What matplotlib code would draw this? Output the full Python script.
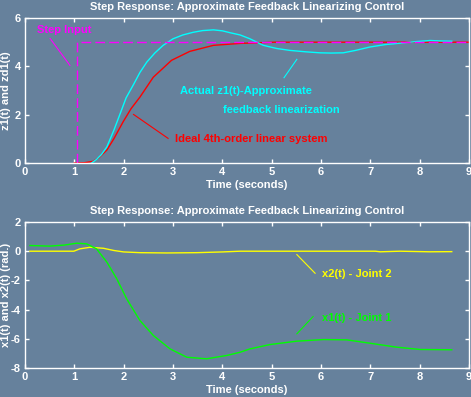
import matplotlib
matplotlib.use("Agg")
import matplotlib.pyplot as plt

plt.rcParams["axes.unicode_minus"] = False
plt.rcParams["font.family"] = ["Liberation Sans", "DejaVu Sans"]

BG = "#66819c"
FG = "white"

# ---- Top panel data ----
t_ideal = [1.0, 1.2, 1.38, 1.5, 1.66, 1.8, 1.99, 2.15, 2.33, 2.6, 2.97, 3.34, 3.82, 4.36, 4.8, 5.05, 9.0]
z_ideal = [0.0, 0.01, 0.07, 0.22, 0.54, 1.0, 1.71, 2.25, 2.73, 3.55, 4.25, 4.62, 4.87, 4.95, 4.98, 5.0, 5.0]

t_actual = [1.35, 1.45, 1.55, 1.66, 1.8, 1.93, 2.05, 2.2, 2.33, 2.47, 2.63, 2.8, 3.0, 3.2, 3.41, 3.6, 3.82,
            4.0, 4.16, 4.36, 4.56, 4.83, 5.1, 5.37, 5.7, 5.98, 6.2, 6.45, 6.7, 6.99, 7.3, 7.6, 7.9, 8.21, 8.45, 8.65]
z_actual = [0.0, 0.15, 0.35, 0.67, 1.35, 2.05, 2.7, 3.25, 3.75, 4.18, 4.55, 4.87, 5.14, 5.3, 5.41, 5.48, 5.51,
            5.47, 5.39, 5.3, 5.14, 4.87, 4.74, 4.66, 4.6, 4.56, 4.55, 4.56, 4.66, 4.8, 4.9, 4.96, 5.02, 5.07, 5.05, 5.04]

t_step = [1.05, 1.05, 9.0]
z_step = [0.0, 5.0, 5.0]

# ---- Bottom panel data ----
t_x1 = [0.1, 0.5, 0.8, 1.05, 1.25, 1.45, 1.66, 1.86, 2.06, 2.33, 2.6, 2.94, 3.28, 3.68, 4.09, 4.36,
        4.56, 4.97, 5.51, 6.05, 6.52, 6.99, 7.53, 8.01, 8.65]
x1 = [0.39, 0.35, 0.42, 0.55, 0.5, 0.16, -0.75, -1.89, -3.26, -4.75, -5.77, -6.69, -7.26, -7.37, -7.14, -6.92,
      -6.69, -6.39, -6.16, -6.05, -6.07, -6.3, -6.57, -6.73, -6.75]

t_x2 = [0.1, 0.99, 1.11, 1.32, 1.59, 1.8, 2.0, 2.33, 2.87, 3.48, 4.0, 4.36, 7.1, 7.2, 7.6, 8.2, 8.65]
x2 = [0.0, 0.0, 0.16, 0.27, 0.2, 0.05, -0.05, -0.1, -0.12, -0.1, -0.05, 0.0, 0.0, -0.04, 0.0, -0.04, -0.03]

title = "Step Response: Approximate Feedback Linearizing Control"
xticks = [0, 1, 2, 3, 4, 5, 6, 7, 8, 9]

fig = plt.figure(figsize=(4.71, 3.97), dpi=100, facecolor=BG)
ax1 = fig.add_axes([0.0531, 0.5894, 0.9427, 0.3652])
ax2 = fig.add_axes([0.0531, 0.0730, 0.9427, 0.3678])

fs = 8
for ax in (ax1, ax2):
    ax.set_facecolor(BG)
    for s in ax.spines.values():
        s.set_color(FG)
        s.set_linewidth(1)
    ax.tick_params(direction="in", colors=FG, top=True, right=True, length=3, width=1,
                   labelsize=fs, pad=3)
    ax.set_xlim(0, 9)
    ax.set_xticks(xticks)
    ax.set_title(title, color=FG, fontsize=fs, fontweight="bold", pad=6)
    ax.set_xlabel("Time (seconds)", color=FG, fontsize=fs, fontweight="bold", labelpad=2)

# Top panel
ax1.set_ylim(0, 6)
ax1.set_yticks([0, 2, 4, 6])
ax1.plot(t_ideal, z_ideal, color="red", lw=1)
ax1.plot(t_actual, z_actual, color="cyan", lw=1)
ax1.plot(t_step, z_step, color="magenta", lw=1, dashes=(7, 3))
ax1.set_ylabel("z1(t) and zd1(t)", color=FG, fontsize=fs, fontweight="bold")
ax1.yaxis.set_label_coords(-0.031, 0.5)

ax1.text(0.24, 5.5, "Step Input", color="magenta", fontsize=fs, fontweight="bold", va="center")
ax1.plot([0.51, 0.91], [5.15, 4.04], color="magenta", lw=0.8)
ax1.text(3.14, 2.97, "Actual z1(t)-Approximate", color="cyan", fontsize=fs, fontweight="bold", va="center")
ax1.text(4.01, 2.19, "feedback linearization", color="cyan", fontsize=fs, fontweight="bold", va="center")
ax1.plot([5.25, 5.51], [3.53, 4.29], color="cyan", lw=0.8)
ax1.text(3.04, 0.99, "Ideal 4th-order linear system", color="red", fontsize=fs, fontweight="bold", va="center")
ax1.plot([2.2, 2.9], [2.01, 1.02], color="red", lw=0.8)

# Bottom panel
ax2.set_ylim(-8, 2)
ax2.set_yticks([-8, -6, -4, -2, 0, 2])
ax2.plot(t_x2, x2, color="yellow", lw=1)
ax2.plot(t_x1, x1, color="#00ff00", lw=1)
ax2.set_ylabel("x1(t) and x2(t) (rad.)", color=FG, fontsize=fs, fontweight="bold")
ax2.yaxis.set_label_coords(-0.031, 0.5)

ax2.text(6.01, -1.55, "x2(t) - Joint 2", color="yellow", fontsize=fs, fontweight="bold", va="center")
ax2.plot([5.51, 5.88], [-0.23, -1.51], color="yellow", lw=0.8)
ax2.text(6.01, -4.56, "x1(t) - Joint 1", color="#00ff00", fontsize=fs, fontweight="bold", va="center")
ax2.plot([5.51, 5.84], [-5.66, -4.47], color="#00ff00", lw=0.8)

for ax in (ax1, ax2):
    for lab in ax.get_xticklabels() + ax.get_yticklabels():
        lab.set_fontweight("bold")

fig.savefig("out.png", dpi=100, facecolor=BG)
